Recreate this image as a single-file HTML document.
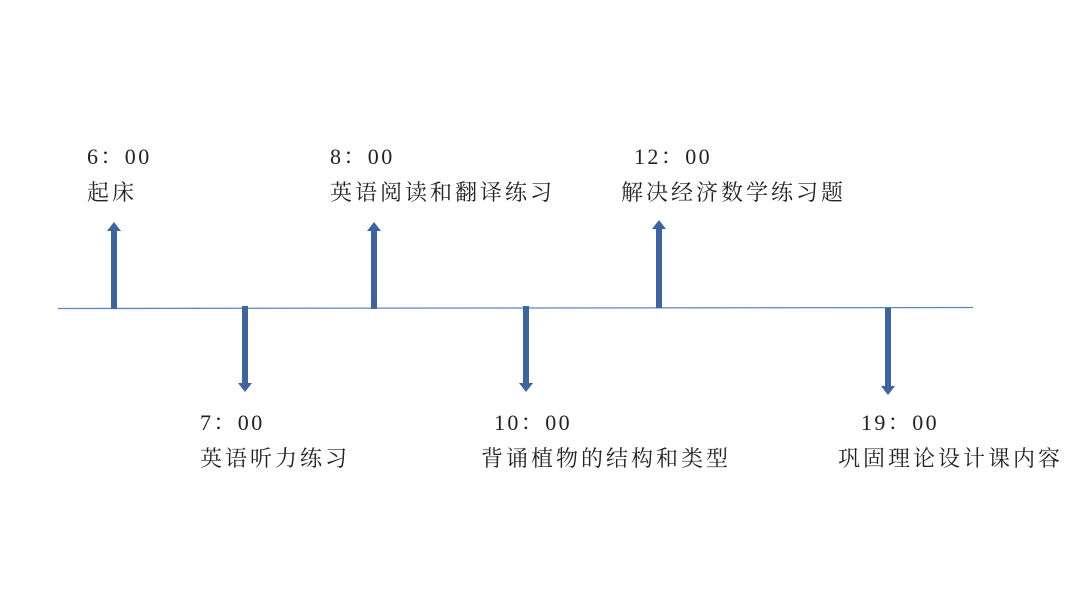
<!DOCTYPE html>
<html><head><meta charset="utf-8"><style>
html,body{margin:0;padding:0;background:#fff;}
#c{position:relative;width:1080px;height:607px;overflow:hidden;font-family:"Liberation Serif","Noto Serif CJK SC",serif;color:#222;}
.t{position:absolute;font-size:22px;letter-spacing:3px;white-space:nowrap;line-height:1;}
.n{letter-spacing:2.4px;}
</style></head><body><div id="c">
<svg width="1080" height="607" style="position:absolute;left:0;top:0">
<line x1="58" y1="308.5" x2="973" y2="307.5" stroke="#5b87c0" stroke-width="1.3"/>
<g fill="#3d63a3">
<rect x="111" y="230" width="6" height="79"/><polygon points="107,231 121,231 114,222"/>
<rect x="371" y="230" width="6" height="79"/><polygon points="367,231 381,231 374,222"/>
<rect x="656" y="228" width="6" height="80"/><polygon points="652,229 666,229 659,220"/>
<rect x="242" y="306" width="6" height="78"/><polygon points="238,383 252,383 245,392"/>
<rect x="523" y="306" width="6" height="78"/><polygon points="519,383 533,383 526,392"/>
<rect x="885" y="308" width="6" height="79"/><polygon points="881,386 895,386 888,395"/>
</g>
</svg>
<div class="t n" style="left:87px;top:146px">6：00</div>
<div class="t" style="left:87px;top:182px">起床</div>
<div class="t n" style="left:330px;top:146px">8：00</div>
<div class="t" style="left:330px;top:182px">英语阅读和翻译练习</div>
<div class="t n" style="left:634px;top:146px">12：00</div>
<div class="t" style="left:621px;top:182px">解决经济数学练习题</div>
<div class="t n" style="left:200px;top:412px">7：00</div>
<div class="t" style="left:200px;top:448px">英语听力练习</div>
<div class="t n" style="left:494px;top:412px">10：00</div>
<div class="t" style="left:481px;top:448px">背诵植物的结构和类型</div>
<div class="t n" style="left:861px;top:412px">19：00</div>
<div class="t" style="left:838px;top:448px">巩固理论设计课内容</div>
</div></body></html>
